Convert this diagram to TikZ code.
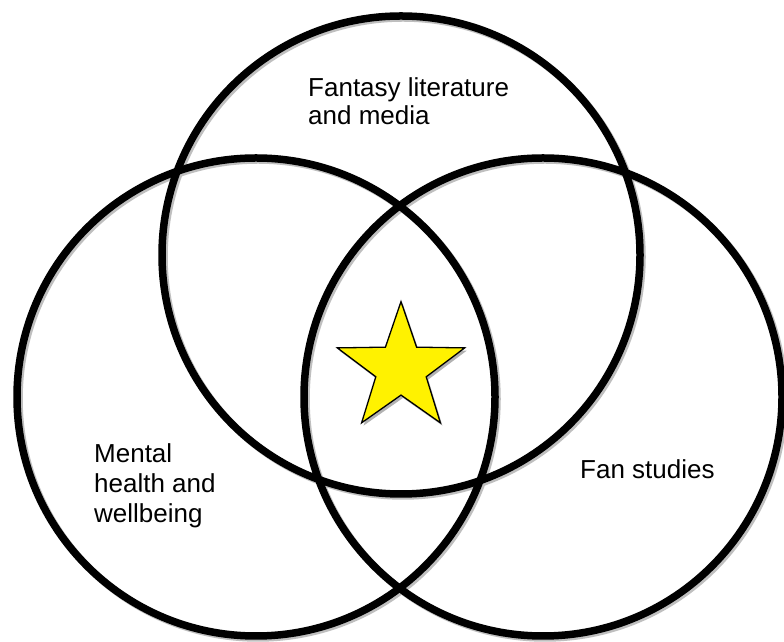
\documentclass[tikz,border=0pt]{standalone}
\usepackage{fontspec}
\setmainfont{Liberation Sans}
\usetikzlibrary{shapes.geometric}
\begin{document}
\begin{tikzpicture}[x=1pt,y=1pt,
  ring/.style={circle, draw=black, line width=7.5pt, minimum size=478pt, inner sep=0pt},
  ringshadow/.style={draw=black!25, line width=7.5pt},
  label/.style={anchor=base west, inner sep=0pt, align=left}]
\useasboundingbox (0,0) rectangle (784,642);
\fill[white] (0,0) rectangle (784,642);
% shadows
\draw[ringshadow] (403,385) circle (239);
\draw[ringshadow] (258,243) circle (239);
\draw[ringshadow] (545,243) circle (239);
% circles
\node[ring] (fantasy) at (401,387) {};
\node[ring] (mental) at (256,245) {};
\node[ring] (fan) at (543,245) {};
% star
\begin{scope}[shift={(403,270.6)}]
\fill[black!30] (90:67) -- (126:26.5) -- (162:67) -- (198:26.5) -- (234:67) -- (270:26.5) -- (306:67) -- (342:26.5) -- (18:67) -- (54:26.5) -- cycle;
\end{scope}
\begin{scope}[shift={(401,273.4)}]
\draw[fill=yellow, line width=1.3pt, line join=miter] (90:67) -- (126:26.5) -- (162:67) -- (198:26.5) -- (234:67) -- (270:26.5) -- (306:67) -- (342:26.5) -- (18:67) -- (54:26.5) -- cycle;
\end{scope}
\coordinate (starc) at (401,273.4);
% labels
\node[label, font=\fontsize{26}{27.6}\selectfont] (t1) at (308,517.7) {Fantasy literature\\and media};
\node[label, font=\fontsize{26}{30}\selectfont] (t2) at (94,119.7) {Mental\\health and\\wellbeing};
\node[label, font=\fontsize{26}{30}\selectfont] (t3) at (580,163.7) {Fan studies};
\end{tikzpicture}
\end{document}
